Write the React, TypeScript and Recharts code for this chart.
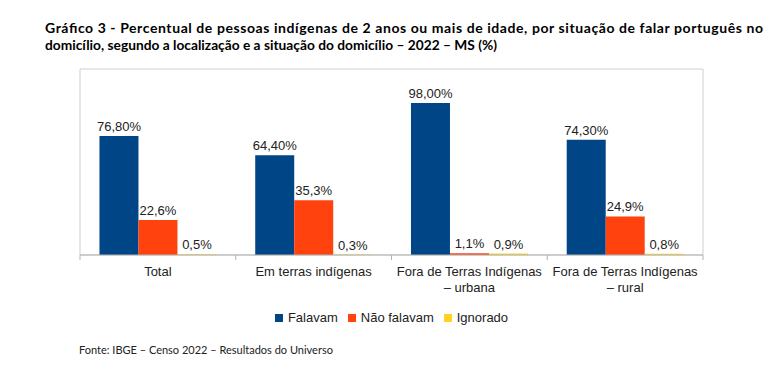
import { Bar, BarChart, LabelList, ReferenceArea, XAxis, YAxis } from "recharts";

const categories = [
  "Total",
  "Em terras indígenas",
  "Fora de Terras Indígenas\n– urbana",
  "Fora de Terras Indígenas\n– rural",
];
const falavam = [76.8, 64.4, 98.0, 74.3];
const naoFalavam = [22.6, 35.3, 1.1, 24.9];
const ignorado = [0.5, 0.3, 0.9, 0.8];

const series = [
  { key: "falavam", name: "Falavam", color: "#004586", decimals: 2 },
  { key: "naoFalavam", name: "Não falavam", color: "#ff420e", decimals: 1 },
  { key: "ignorado", name: "Ignorado", color: "#ffd320", decimals: 1 },
];

const data = categories.map((cat, i) => ({
  cat,
  falavam: falavam[i],
  naoFalavam: naoFalavam[i],
  ignorado: ignorado[i],
}));

const font = "'Liberation Sans', Arial, sans-serif";
const frame = "#cfcfcf";
const axisGray = "#b3b3b3";

const fmt = (d: number) => (v: any) => `${Number(v).toFixed(d).replace(".", ",")}%`;

function CategoryTick(props: any) {
  const { x, y, payload, index } = props;
  const half = payload?.offset ?? 623 / 8;
  const lines = String(payload.value).split("\n");
  return (
    <g>
      <line x1={x - half} y1={y} x2={x - half} y2={y + 5} stroke={axisGray} />
      {index === categories.length - 1 && (
        <line x1={x + half} y1={y} x2={x + half} y2={y + 5} stroke={axisGray} />
      )}
      <text x={x} y={y + 21} textAnchor="middle" fontSize={13} fill="#222" fontFamily={font}>
        {lines.map((l, i) => (
          <tspan key={i} x={x} dy={i === 0 ? 0 : 16}>
            {l}
          </tspan>
        ))}
      </text>
    </g>
  );
}

export default function App() {
  return (
    <div style={{ position: "absolute", left: 0, top: 0, width: 782, height: 368, background: "#fff" }}>
      <svg width={782} height={60} style={{ position: "absolute", left: 0, top: 0 }}>
        <text
          x={45}
          y={33}
          fontSize={14}
          fontWeight="bold"
          fontFamily="Lato, 'Open Sans', sans-serif"
          fill="#000"
          textLength={718}
          lengthAdjust="spacing"
        >
          Gráfico 3 - Percentual de pessoas indígenas de 2 anos ou mais de idade, por situação de falar português no
        </text>
        <text
          x={45}
          y={50}
          fontSize={14}
          fontWeight="bold"
          fontFamily="Lato, 'Open Sans', sans-serif"
          fill="#000"
          textLength={452}
          lengthAdjust="spacingAndGlyphs"
        >
          domicílio, segundo a localização e a situação do domicílio – 2022 – MS (%)
        </text>
      </svg>
      <div style={{ position: "absolute", left: 0, top: 0 }}>
        <BarChart
          width={782}
          height={300}
          data={data}
          margin={{ top: 69, right: 79, bottom: 5, left: 80 }}
          barGap={0}
          barCategoryGap="12.5%"
        >
          <ReferenceArea y1={0} y2={120} fill="none" stroke={frame} strokeWidth={1} ifOverflow="visible" />
          <XAxis
            dataKey="cat"
            height={40}
            interval={0}
            tickSize={0}
            tickMargin={0}
            tickLine={false}
            axisLine={{ stroke: axisGray }}
            tick={<CategoryTick />}
          />
          <YAxis domain={[0, 120]} width={0} tick={false} tickLine={false} axisLine={false} />
          {series.map((s) => (
            <Bar key={s.key} dataKey={s.key} name={s.name} fill={s.color} isAnimationActive={false}>
              <LabelList
                dataKey={s.key}
                position="top"
                offset={5}
                formatter={fmt(s.decimals)}
                style={{ fontSize: 13, fill: "#222", fontFamily: font }}
              />
            </Bar>
          ))}
        </BarChart>
      </div>
      <div
        style={{
          position: "absolute",
          left: 80,
          width: 623,
          top: 310,
          display: "flex",
          justifyContent: "center",
          gap: 10,
          fontFamily: font,
          fontSize: 13,
          color: "#222",
        }}
      >
        {series.map((s) => (
          <div key={s.key} style={{ display: "flex", alignItems: "center", gap: 5 }}>
            <span style={{ width: 8, height: 8, background: s.color, display: "inline-block" }} />
            <span>{s.name}</span>
          </div>
        ))}
      </div>
      <div
        style={{
          position: "absolute",
          left: 79,
          top: 343,
          fontFamily: "Lato, 'Open Sans', sans-serif",
          fontSize: 11,
          color: "#222",
        }}
      >
        Fonte: IBGE – Censo 2022 – Resultados do Universo
      </div>
    </div>
  );
}
